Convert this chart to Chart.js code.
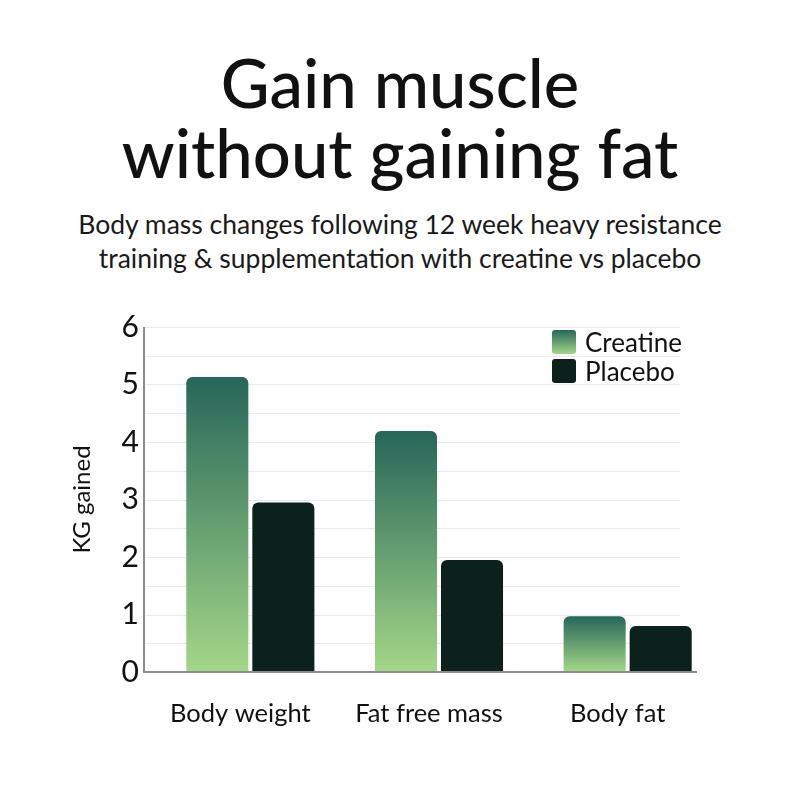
<!DOCTYPE html>
<html>
<head>
<meta charset="utf-8">
<script src="https://cdn.jsdelivr.net/npm/chart.js@4.4.1/dist/chart.umd.min.js"></script>
<style>
  html, body { margin:0; padding:0; background:#fff; }
  #page { position:relative; width:800px; height:800px; overflow:hidden; font-family:Lato, sans-serif; color:#111; }
  #title { position:absolute; top:47px; left:0; width:800px; text-align:center; font-size:67px; line-height:70px; font-weight:500; }
  #subtitle { position:absolute; top:207px; left:0; width:800px; text-align:center; font-size:26.5px; line-height:34px; color:#1a1a1a; }
  #chart-wrap { position:absolute; left:0; top:300px; width:800px; height:460px; }
  #legend { position:absolute; left:552px; top:327px; font-size:26px; }
  .lg-item { display:flex; align-items:center; height:29px; }
  .lg-box { width:24px; height:24px; border-radius:3px; margin-right:9px; }
</style>
</head>
<body>
<div id="page">
  <div id="title">Gain muscle<br>without gaining fat</div>
  <div id="subtitle">Body mass changes following 12 week heavy resistance<br>training &amp; supplementation with creatine vs placebo</div>
  <div id="chart-wrap"><canvas id="chart"></canvas></div>
  <div id="legend"></div>
</div>
<script>
'use strict';

// data
const categories = ['Body weight', 'Fat free mass', 'Body fat'];
const seriesNames = ['Creatine', 'Placebo'];
const creatineValues = [5.13, 4.19, 0.97];
const placeboValues = [2.95, 1.95, 0.80];
const yTicks = [0, 1, 2, 3, 4, 5, 6];

const GRAD_TOP = '#276659';
const GRAD_BOTTOM = '#a4d788';
const PLACEBO = '#0c201c';
const AXIS = '#8c8c8c';
const GRID = '#e9e9e9';

// each creatine bar gets its own top-to-bottom gradient
function creatineFill(ctx) {
  const chart = ctx.chart;
  if (!chart.chartArea || ctx.raw == null) return GRAD_TOP;
  const top = chart.scales.y.getPixelForValue(ctx.raw);
  const bottom = chart.scales.y.getPixelForValue(0);
  if (!isFinite(top) || bottom - top < 1) return GRAD_TOP;
  const g = chart.ctx.createLinearGradient(0, top, 0, bottom);
  g.addColorStop(0, GRAD_TOP);
  g.addColorStop(1, GRAD_BOTTOM);
  return g;
}

// grid + axis lines drawn a bit left of the category band, like the original
const axisLines = {
  id: 'axisLines',
  beforeDatasetsDraw(chart) {
    const { ctx, chartArea, scales } = chart;
    const x0 = chartArea.left - 12;
    const x1 = chartArea.right - 42;
    ctx.save();
    ctx.strokeStyle = GRID;
    ctx.lineWidth = 1;
    for (let v = 0.5; v <= 6; v += 0.5) {
      const y = Math.round(scales.y.getPixelForValue(v)) + 0.5;
      ctx.beginPath(); ctx.moveTo(x0, y); ctx.lineTo(x1, y); ctx.stroke();
    }
    ctx.strokeStyle = AXIS;
    ctx.lineWidth = 2;
    ctx.beginPath();
    ctx.moveTo(x0, scales.y.getPixelForValue(6));
    ctx.lineTo(x0, scales.y.getPixelForValue(0));
    ctx.stroke();
    ctx.restore();
  },
  afterDatasetsDraw(chart) {
    const { ctx, chartArea, scales } = chart;
    const y = scales.y.getPixelForValue(0);
    ctx.save();
    ctx.strokeStyle = AXIS;
    ctx.lineWidth = 2;
    ctx.beginPath();
    ctx.moveTo(chartArea.left - 13, y);
    ctx.lineTo(chartArea.right - 25, y);
    ctx.stroke();
    ctx.restore();
  }
};

new Chart(document.getElementById('chart'), {
  type: 'bar',
  data: {
    labels: categories,
    datasets: [
      {
        label: seriesNames[0],
        data: creatineValues,
        backgroundColor: creatineFill,
        borderRadius: { topLeft: 6, topRight: 6 },
        borderSkipped: 'bottom',
        categoryPercentage: 0.7,
        barPercentage: 0.94,
      },
      {
        label: seriesNames[1],
        data: placeboValues,
        backgroundColor: PLACEBO,
        borderRadius: { topLeft: 6, topRight: 6 },
        borderSkipped: 'bottom',
        categoryPercentage: 0.7,
        barPercentage: 0.94,
      },
    ],
  },
  options: {
    responsive: true,
    maintainAspectRatio: false,
    animation: false,
    layout: { padding: { top: 18, right: 78, left: 68, bottom: 0 } },
    plugins: { legend: { display: false }, tooltip: { enabled: false } },
    scales: {
      x: {
        grid: { display: false },
        border: { display: false },
        ticks: { color: '#111', font: { family: 'Lato', size: 25.5 }, padding: 18, labelOffset: -10 },
        afterFit(scale) { scale.height = 88; },
      },
      y: {
        min: 0,
        max: 6,
        grid: { display: false },
        border: { display: false },
        afterBuildTicks(scale) { scale.ticks = yTicks.map(v => ({ value: v })); },
        ticks: { color: '#111', font: { family: 'Lato', size: 30 }, padding: 9 },
        title: { display: true, text: 'KG gained', color: '#111', font: { family: 'Lato', size: 24 }, padding: { top: 0, bottom: 0 } },
        afterFit(scale) { scale.width = 88; },
      },
    },
  },
  plugins: [axisLines],
});

// legend built from the series names
const legendEl = document.getElementById('legend');
legendEl.innerHTML = seriesNames.map((name, i) => `
  <div class="lg-item">
    <div class="lg-box" style="background:${i === 0 ? `linear-gradient(${GRAD_TOP}, ${GRAD_BOTTOM})` : PLACEBO};"></div>
    <span>${name}</span>
  </div>`).join('');
</script>
</body>
</html>
